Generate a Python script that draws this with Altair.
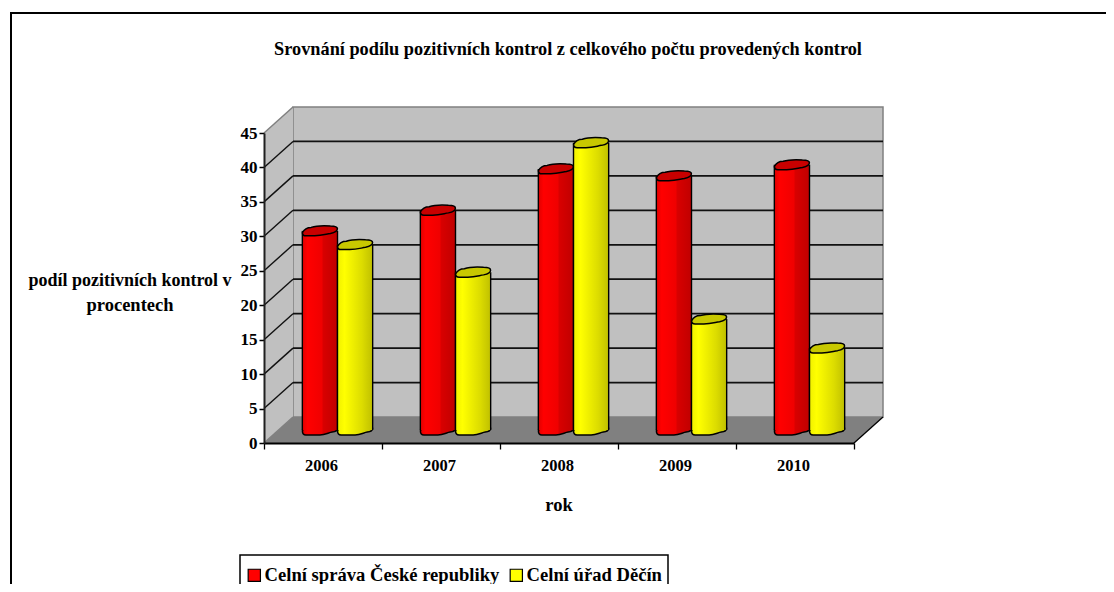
import altair as alt
import pandas as pd

TITLE = "Srovnání podílu pozitivních kontrol z celkového počtu provedených kontrol"
Y_TITLE = ["podíl pozitivních kontrol v", "procentech"]
X_TITLE = "rok"
years = ["2006", "2007", "2008", "2009", "2010"]
series = ["Celní správa České republiky", "Celní úřad Děčín"]
cz = [28.9, 31.9, 37.9, 36.9, 38.5]
decin = [26.9, 22.9, 41.7, 16.1, 11.9]
ticks = [0, 5, 10, 15, 20, 25, 30, 35, 40, 45]

FONT = "Liberation Serif"
PW, PH = 590, 310
DX = 29 / 118
DY = 26 / (PH / 45)
BW = 0.298
xs = alt.Scale(domain=[0, 5])
ys = alt.Scale(domain=[0, 45])

x_axis = alt.Axis(values=[0, 1, 2, 3, 4, 5], labels=False, grid=False, domainColor="black", domainWidth=2,
                  tickColor="black", tickWidth=1.3, tickSize=6, zindex=1, title=None)
y_axis = alt.Axis(values=ticks, grid=False, domainColor="#202020", domainWidth=2, tickColor="black", tickWidth=1.5,
                  tickSize=5, labelFont=FONT, labelFontWeight="bold", labelFontSize=17, labelColor="black",
                  labelPadding=2, zindex=1, title=None)

TOP = ("M-1,.1 C-.9,-.1 -.7,-.2 -.5,-.2 C-.2,-.3 .3,-.3 .6,-.28 C.8,-.28 1,-.25 1,-.12 "
       "C1,-.02 .8,.1 .6,.15 C.3,.2 .1,.27 -.3,.28 L-.8,.28 C-.95,.28 -1,.2 -1,.1 Z")
BOTTOM = ("M-1,.05 C-1,-.1 -.8,-.1 -.5,-.1 L.6,-.1 C.9,-.1 1,-.15 1,-.1 C1,.05 .9,.1 .7,.12 "
          "C.5,.15 .3,.28 0,.28 L-.8,.28 C-.95,.28 -1,.2 -1,.05 Z")


def grad(stops):
    return {"gradient": "linear", "x1": 0, "x2": 1, "y1": 0, "y2": 0,
            "stops": [{"offset": o, "color": c} for o, c in stops]}


X = lambda f: alt.X(f"{f}:Q", scale=xs, axis=x_axis, title=None)
Y = lambda f: alt.Y(f"{f}:Q", scale=ys, axis=y_axis, title=None)

one = pd.DataFrame({"a": [0]})
frame = alt.Chart(one).mark_rect(fill="white", stroke="black", strokeWidth=2).encode(
    x=alt.value(-253), x2=alt.value(900), y=alt.value(-120), y2=alt.value(520))
legend_box = alt.Chart(one).mark_rect(fill="white", stroke="black", strokeWidth=1.5).encode(
    x=alt.value(240 - 264), x2=alt.value(668 - 264), y=alt.value(555 - 133), y2=alt.value(620 - 133))

back = alt.Chart(pd.DataFrame({"x": [DX], "x2": [5 + DX], "y": [DY], "y2": [45 + DY]})).mark_rect(
    fill="#c0c0c0", stroke="#808080", strokeWidth=1.5).encode(x=X("x"), x2="x2:Q", y=Y("y"), y2="y2:Q")
side = alt.Chart(pd.DataFrame({"x": [0, DX], "y": [0, DY], "y2": [45, 45 + DY]})).mark_area(
    orient="vertical", fill="#c0c0c0").encode(x=X("x"), y=Y("y"), y2="y2:Q")
floor = alt.Chart(pd.DataFrame({"y": [0, DY], "x": [0, DX], "x2": [5, 5 + DX]})).mark_area(
    orient="horizontal", fill="#808080").encode(y=Y("y"), x=X("x"), x2="x2:Q")

grid_df = pd.DataFrame({"v": ticks[1:-1]})
grid_df["vb"] = grid_df.v + DY
grid_df["a"] = DX
grid_df["b"] = 5 + DX
grid_df["zero"] = 0.0
grid_back = alt.Chart(grid_df).mark_rule(color="#111111", strokeWidth=1.7).encode(
    x=X("a"), x2="b:Q", y=Y("vb"))
grid_side = alt.Chart(grid_df).mark_rule(color="#111111", strokeWidth=1.4).encode(
    x=X("zero"), x2="a:Q", y=Y("v"), y2="vb:Q")

edge_df = pd.DataFrame({"x": [0, 0], "x2": [DX, DX], "y": [45, 0], "y2": [45 + DY, DY]})
edges = alt.Chart(edge_df).mark_rule(color="#808080", strokeWidth=1.5).encode(
    x=X("x"), x2="x2:Q", y=Y("y"), y2="y2:Q")
edge_fr = alt.Chart(pd.DataFrame({"x": [5], "x2": [5 + DX], "y": [0], "y2": [DY]})).mark_rule(
    color="black", strokeWidth=1.3).encode(x=X("x"), x2="x2:Q", y=Y("y"), y2="y2:Q")


def cylinders(values, start, body, top_fill):
    df = pd.DataFrame({"c": [i + 0.5 + DX / 2 + start + BW / 2 for i in range(5)], "v": values})
    df["l"] = df.c - BW / 2
    df["r"] = df.c + BW / 2
    df["base"] = DY / 2
    df["top"] = df.v + DY / 2
    base = alt.Chart(df)
    size = 35 ** 2
    bottom = base.mark_point(shape=BOTTOM, size=size, filled=True, fill=grad(body), stroke="black",
                             strokeWidth=1.5, opacity=1).encode(x=X("c"), y=Y("base"))
    bar = base.mark_rect(fill=grad(body)).encode(x=X("l"), x2="r:Q", y=Y("base"), y2="top:Q")
    left = base.mark_rule(color="black", strokeWidth=1.4).encode(x=X("l"), y=Y("base"), y2="top:Q")
    right = base.mark_rule(color="black", strokeWidth=1.4).encode(x=X("r"), y=Y("base"), y2="top:Q")
    top = base.mark_point(shape=TOP, size=size, filled=True, fill=top_fill, stroke="black",
                          strokeWidth=1.5, opacity=1).encode(x=X("c"), y=Y("top"))
    return [bottom, bar, left, right, top]


red_stops = [(0, "#e00000"), (0.15, "#ff0000"), (0.55, "#f00000"), (0.6, "#d80000"), (1, "#c00000")]
yel_stops = [(0, "#f0f000"), (0.2, "#ffff00"), (0.5, "#eaea00"), (0.7, "#dcdc00"), (1, "#c0c000")]
reds = cylinders(cz, -BW, red_stops, "#c80000")
yellows = cylinders(decin, 0, yel_stops, "#c8c800")

year_text = alt.Chart(pd.DataFrame({"x": [i + 0.5 for i in range(5)], "t": years, "y": [0] * 5})).mark_text(
    font=FONT, fontWeight="bold", fontSize=16.5, color="black", dx=-1.5, dy=23).encode(
    x=X("x"), y=Y("y"), text="t:N")


def label(txt, px, py, size):
    return alt.Chart(pd.DataFrame({"t": [txt]})).mark_text(
        font=FONT, fontWeight="bold", fontSize=size, color="black").encode(
        text="t:N", x=alt.value(px), y=alt.value(py))


title = label(TITLE, 568 - 264, 50 - 133, 18.3)
yt1 = label(Y_TITLE[0], 130 - 264, 281 - 133, 18)
yt2 = label(Y_TITLE[1], 130 - 264, 305 - 133, 18.5)
xt = label(X_TITLE, 559 - 264, 505 - 133, 18.5)

legend_df = pd.DataFrame({"s": series, "x": [0, 0], "y": [0, 0]})
legend_layer = alt.Chart(legend_df).mark_square(size=0).encode(
    x=X("x"), y=Y("y"),
    color=alt.Color("s:N", scale=alt.Scale(domain=series, range=["#ff0000", "#ffff00"]), sort=series,
                    legend=alt.Legend(
                        title=None, orient="none", legendX=245 - 264, legendY=566 - 133, direction="horizontal",
                        symbolType="square", symbolSize=150, symbolStrokeColor="black", symbolStrokeWidth=1.2,
                        symbolOpacity=1, labelFont=FONT, labelFontWeight="bold", labelFontSize=18.6,
                        labelColor="black", padding=0, labelLimit=300, columnPadding=7, labelOffset=1)),
)

chart = alt.layer(
    frame, legend_box, back, side, floor, grid_back, grid_side, edges, edge_fr,
    *reds, *yellows, year_text, title, yt1, yt2, xt, legend_layer,
).properties(
    width=PW, height=PH,
    padding={"left": 256, "top": 125, "right": 1098 - 256 - PW, "bottom": 576 - 125 - PH},
    autosize=alt.AutoSizeParams(type="none"),
).configure_view(stroke=None)

chart.save("out.html", embed_options={"renderer": "svg", "actions": False})
